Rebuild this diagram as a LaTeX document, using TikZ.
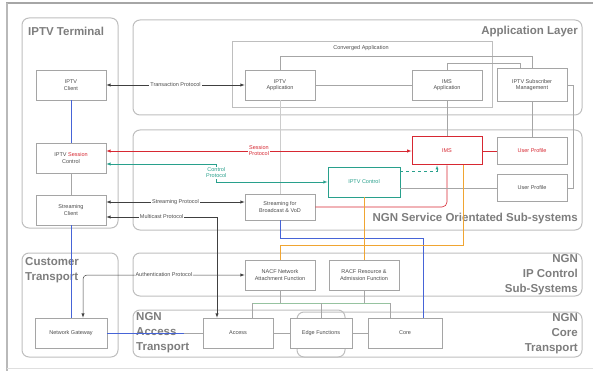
\documentclass[tikz,border=0pt]{standalone}
\usepackage{fontspec}
\setmainfont{Liberation Sans}
\usetikzlibrary{positioning,calc}

\definecolor{paneledge}{RGB}{190,190,190}
\definecolor{titlegray}{RGB}{125,125,125}
\definecolor{boxedge}{RGB}{165,165,165}
\definecolor{sessred}{RGB}{215,40,50}
\definecolor{ctrlteal}{RGB}{40,160,140}
\definecolor{mediablue}{RGB}{70,100,215}
\definecolor{qosorange}{RGB}{240,165,50}
\definecolor{busgreen}{RGB}{150,195,160}

\tikzset{%
  >=latex,
  panel/.style={draw=paneledge, line width=1pt, rounded corners=7pt},
  paneltitle/.style={font=\bfseries\fontsize{11.5}{15}\selectfont, text=titlegray, inner sep=0pt},
  func/.style={draw=boxedge, fill=white, line width=0.6pt, minimum width=70,
    minimum height=30, align=center, inner sep=1pt,
    font=\fontsize{5.5}{6.5}\selectfont, text=black!70},
  link/.style={draw=gray!70, line width=0.5pt},
  proto/.style={<->, draw=black!75, line width=0.5pt},
  lbl/.style={fill=white, inner sep=1pt, align=center,
    font=\fontsize{5.5}{6}\selectfont, text=black!70}%
}

\begin{document}
\begin{tikzpicture}[x=1pt,y=-1pt]
	%% frame
	\useasboundingbox (0,0) rectangle (593,371);
	\draw[gray!70, line width=2.5pt] (6,3) -- (593,3);
	\draw[gray!55, line width=1.5pt] (7,3) -- (7,371);
	\draw[gray!25] (7,368) -- (593,368);

	%% layers
	\draw[panel] (22,18) rectangle (118,228);
	\node[paneltitle, anchor=west] (termT) at (28,31) {IPTV Terminal};
	\draw[panel] (133,20) rectangle (582,115);
	\node[paneltitle, anchor=east] (appT) at (578,32) {Application Layer};
	\draw[draw=paneledge, line width=0.8pt] (232,41) rectangle (492,107);
	\node[lbl, fill=none] (convT) at (361,48) {Converged Application};
	\draw[panel] (133,130) rectangle (582,230);
	\node[paneltitle, anchor=east] (svcT) at (578,219) {NGN Service Orientated Sub-systems};
	\draw[panel] (22,253) rectangle (118,357);
	\node[paneltitle, anchor=north west, align=left] (custT) at (25,257) {Customer\\Transport};
	\draw[panel] (133,253) rectangle (582,296);
	\node[paneltitle, anchor=east, align=right] (ipcT) at (578,275) {NGN\\IP Control\\Sub-Systems};
	\draw[panel] (133,310) rectangle (345,357);
	\node[paneltitle, anchor=west, align=left] (accT) at (136,333) {NGN\\Access\\Transport};
	\draw[panel] (297,312) rectangle (582,357);
	\node[paneltitle, anchor=east, align=right] (coreT) at (578,334) {NGN\\Core\\Transport};

	%% functions
	\node[func] (client) at (71,85) {IPTV\\Client};
	\node[func] (iptvapp) at (280,85) {IPTV\\Application};
	\node[func] (imsapp) at (447,85) {IMS\\Application};
	\node[func, minimum height=33] (subsmgmt) at (532,85) {IPTV Subscriber\\Management};
	\node[func] (sessctrl) at (71,158) {IPTV {\color{sessred}Session}\\Control};
	\node[func] (strclient) at (71,210) {Streaming\\Client};
	\node[func, minimum height=26] (strbcast) at (280,207) {Streaming for\\Broadcast \& VoD};
	\node[func, draw=sessred, line width=1pt, minimum height=28, text=sessred] (ims) at (447,151) {IMS};
	\node[func, minimum height=27, text=sessred] (uprof1) at (532,151) {User Profile};
	\node[func, minimum height=27] (uprof2) at (532,188) {User Profile};
	\node[func, draw=ctrlteal, line width=0.8pt, text=ctrlteal, minimum width=72] (iptvctrl) at (364,182) {IPTV Control};
	\node[func] (nacf) at (280,275) {NACF Network\\Attachment Function};
	\node[func] (racf) at (364,275) {RACF Resource \&\\Admission Function};
	\node[func, minimum width=72] (gateway) at (71,333) {Network Gateway};
	\node[func] (access) at (238,333) {Access};
	\node[func, minimum width=62] (edge) at (321,333) {Edge Functions};
	\node[func, minimum width=74] (core) at (405,333) {Core};

	%% application layer links
	\draw[proto] (client.east) -- node[lbl]{Transaction Protocol} (iptvapp.west);
	\draw[link] (iptvapp.east) -- (imsapp.west);
	\draw[link] (iptvapp.north) -- ++(0,-13) -| (subsmgmt.north);
	\draw[link] (imsapp.north) -- ++(0,-6) -| ([xshift=-12]subsmgmt.north);
	\draw[link] (imsapp.south) -- (ims.north);
	\draw[link] (subsmgmt.south) -- (uprof1.north);
	\draw[link] (subsmgmt.east) -- ++(6,0) |- (uprof2.east);
	\draw[link, gray!40] (iptvapp.south) -- (strbcast.north);

	%% terminal column
	\draw[mediablue, line width=0.6pt] (client.south) -- (sessctrl.north);
	\draw[link] (sessctrl.south) -- (strclient.north);
	\draw[mediablue, line width=0.6pt] (strclient.south) -- (gateway.north);

	%% session and control
	\draw[proto, sessred] (ims.west) -- node[lbl, text=sessred]{Session\\Protocol} (ims.west -| sessctrl.east);
	\draw[sessred, line width=0.6pt] (ims.east) -- (uprof1.west);
	\draw[sessred, line width=0.6pt, rounded corners=5] (strbcast.east) -| (ims.south);
	\draw[proto, ctrlteal] ([yshift=-6]sessctrl.east) -- ++(110,0) |- node[pos=0.25, lbl, text=ctrlteal]{Control\\Protocol} (iptvctrl.west);
	\draw[ctrlteal, dashed, ->] ([yshift=-5]iptvctrl.north east) -| ([xshift=-10]ims.south);
	\draw[link] (iptvctrl.east |- uprof2.west) -- (uprof2.west);

	%% streaming
	\draw[proto] ([yshift=8]strclient.east) -- node[lbl]{Streaming Protocol} ([yshift=8]strclient.east -| strbcast.west);
	\draw[proto] ([yshift=-7]strclient.east) -| node[pos=0.25, lbl]{Multicast Protocol} ([xshift=-21]access.north);
	\draw[mediablue, line width=0.6pt] (strbcast.south) -- ++(0,18) -| ([xshift=18]core.north);

	%% resource control
	\draw[qosorange, line width=0.6pt] ([xshift=16]ims.south) -- ++(0,80) -| (nacf.north);
	\draw[qosorange, line width=0.6pt] (iptvctrl.south) -- (racf.north);
	\draw[proto, rounded corners=4] ([xshift=12]gateway.north) |- node[pos=0.75, lbl]{Authentication Protocol} (nacf.west);

	%% transport control bus
	\coordinate (busL) at (252,303);
	\coordinate (busR) at (390,303);
	\draw[busgreen, line width=0.6pt] (busL) -- (busR);
	\draw[link] (nacf.south) -- (nacf.south |- busL);
	\draw[link] (racf.south) -- (racf.south |- busL);
	\draw[link] (busL) -- (busL |- access.north);
	\draw[link] (edge.north |- busL) -- (edge.north);
	\draw[link] (busR) -- (busR |- core.north);

	%% transport chain
	\draw[mediablue, line width=0.6pt] (gateway.east) -- ($(gateway.east)!0.8!(access.west)$);
	\draw[link] ($(gateway.east)!0.8!(access.west)$) -- (access.west);
	\draw[link] (access.east) -- (edge.west);
	\draw[link] (edge.east) -- (core.west);
\end{tikzpicture}
\end{document}
